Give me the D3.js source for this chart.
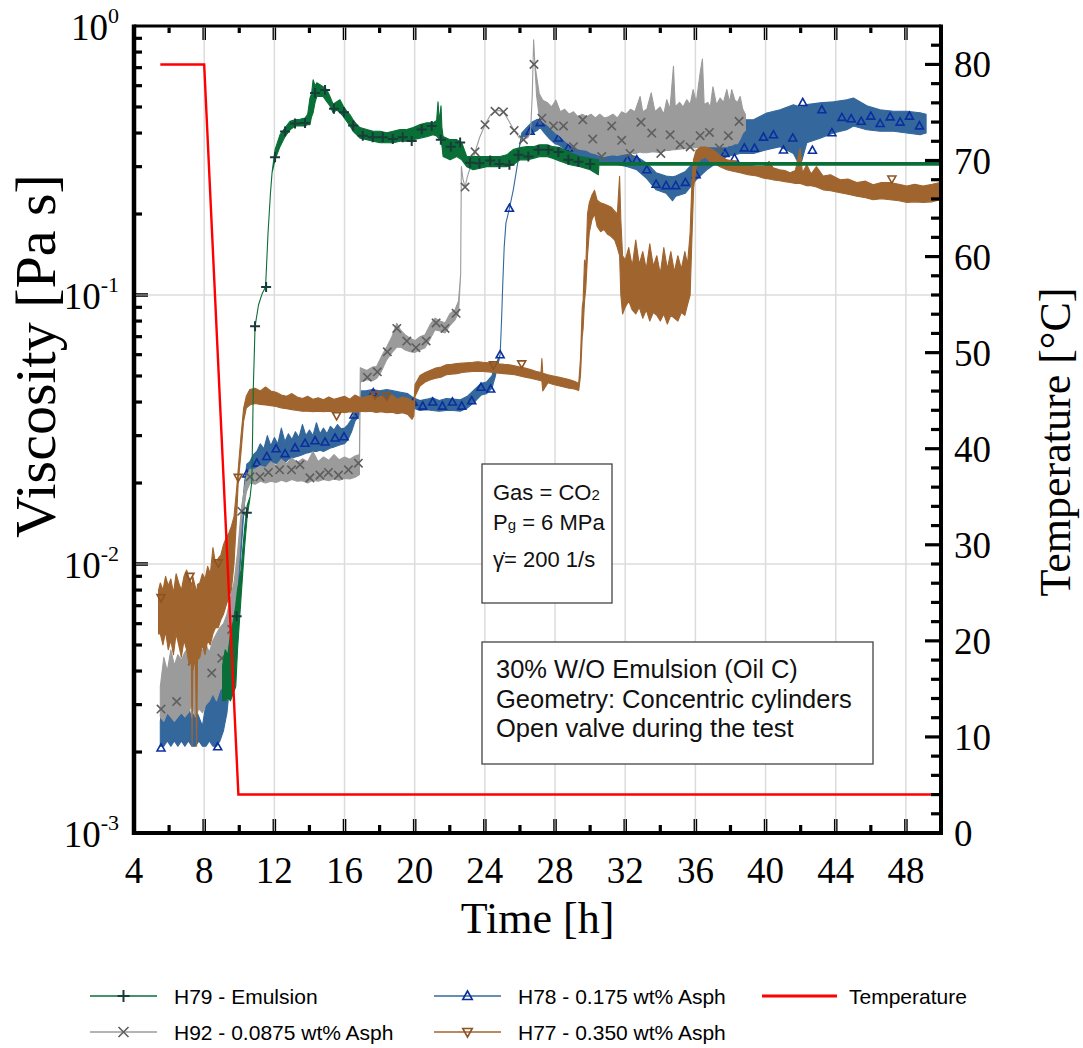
<!DOCTYPE html>
<html>
<head>
<meta charset="utf-8">
<script src="https://cdn.jsdelivr.net/npm/d3@7"></script>
<style>
  html, body { margin: 0; padding: 0; background: #fff; }
  svg { display: block; }
</style>
</head>
<body>
<svg id="chart" width="1083" height="1048"></svg>
<script>
// ---- Data: viscosity traces as [time h, low, high] (min/max per time slot, Pa s) ----
const h79Emulsion = [
  [9.05,0.0031,0.0042],[9.2,0.0031,0.0048],[9.35,0.0032,0.0046],[9.5,0.0031,0.0055],
  [9.65,0.0033,0.0061],[9.8,0.0035,0.0070],[9.9,0.0048,0.0080],[10.1,0.0075,0.0095],
  [10.3,0.0115,0.0135],[10.45,0.0150,0.0165],[10.62,0.0178],[10.72,0.0205],[10.8,0.045],
  [10.85,0.058],[10.9,0.0765],[11.1,0.092],[11.3,0.101],[11.5,0.107],[11.64,0.170],
  [11.78,0.24],[11.87,0.285],[12.04,0.318,0.347],[12.32,0.356,0.394],[12.61,0.388,0.418],
  [12.89,0.411,0.442],[13.18,0.425,0.448],[13.46,0.425,0.450],[13.75,0.425,0.455],
  [13.9,0.430,0.470],[14.03,0.430,0.540],[14.12,0.460,0.560],[14.21,0.476,0.631],
  [14.32,0.520,0.600],[14.42,0.547,0.615],[14.60,0.547,0.605],[14.78,0.547,0.595],
  [14.99,0.523,0.580],[15.17,0.505,0.547],[15.35,0.476,0.512],[15.56,0.488,0.523],
  [15.74,0.476,0.532],[15.92,0.462,0.505],[16.13,0.442,0.482],[16.31,0.425,0.468],
  [16.49,0.406,0.448],[16.70,0.394,0.430],[16.88,0.383,0.419],[17.27,0.378,0.412],
  [17.63,0.373,0.406],[18.03,0.368,0.406],[18.41,0.368,0.401],[18.77,0.368,0.406],
  [19.17,0.373,0.412],[19.55,0.373,0.412],[19.91,0.378,0.419],[20.31,0.383,0.430],
  [20.69,0.388,0.437],[21.05,0.394,0.437],[21.25,0.390,0.445],[21.33,0.385,0.523],
  [21.40,0.380,0.440],[21.50,0.378,0.505],[21.55,0.360,0.420],[21.62,0.327,0.388],
  [22.02,0.318,0.378],[22.40,0.327,0.378],[22.68,0.318,0.368],[22.97,0.300,0.327],
  [23.33,0.292,0.327],[23.73,0.296,0.327],[24.11,0.300,0.327],[24.47,0.300,0.327],
  [24.87,0.300,0.327],[25.25,0.300,0.332],[25.61,0.305,0.347],[26.01,0.318,0.353],
  [26.39,0.318,0.356],[26.75,0.322,0.356],[27.15,0.327,0.362],[27.53,0.327,0.362],
  [27.89,0.322,0.356],[28.29,0.314,0.353],[28.86,0.305,0.338],[29.43,0.300,0.327],
  [30.00,0.292,0.322],[30.47,0.280,0.318],[30.5,0.304,0.311],[50,0.304,0.311]
];
const h79Marks = [
  [9.85,0.0064],[10.43,0.0155],[10.9,0.0765],[11.53,0.107],[12.04,0.325],[12.61,0.405],
  [13.18,0.434],[13.75,0.436],[14.32,0.564],[14.89,0.578],[15.40,0.492],[15.97,0.478],
  [16.49,0.427],[17.04,0.391],[17.61,0.386],[18.18,0.386],[18.75,0.380],[19.32,0.386],
  [19.83,0.374],[20.40,0.412],[20.97,0.425],[21.49,0.378],[22.06,0.356],[22.59,0.369],
  [23.16,0.310],[23.69,0.309],[24.30,0.316],[24.83,0.307],[25.40,0.305],[25.91,0.332],
  [26.48,0.327],[27.05,0.347],[27.62,0.347],[28.19,0.340],[28.76,0.318],[29.33,0.313],
  [30.00,0.307]
];

const h92Asph = [
  [5.5,0.0027,0.0035],[5.7,0.0026,0.0045],[5.9,0.0028,0.0040],[6.1,0.0027,0.0048],
  [6.3,0.0026,0.0042],[6.5,0.0027,0.0046],[6.7,0.0028,0.0044],[6.9,0.0027,0.0047],
  [7.1,0.0028,0.0049],[7.3,0.0030,0.0046],[7.5,0.0027,0.0049],[7.7,0.0029,0.0045],
  [7.9,0.0028,0.0048],[8.1,0.0030,0.0050],[8.3,0.0031,0.0047],[8.5,0.0033,0.0052],
  [8.7,0.0031,0.0055],[8.9,0.0034,0.0058],[9.1,0.0035,0.0060],[9.3,0.0037,0.0065],
  [9.5,0.0045,0.0075],[9.7,0.0060,0.0085],[9.9,0.0085,0.011],[10.14,0.0145,0.0165],
  [10.4,0.0185,0.021],[10.61,0.0200,0.0225],[10.9,0.0198,0.0225],[11.2,0.0203,0.0232],
  [11.5,0.0200,0.0228],[11.8,0.0203,0.0240],[12.1,0.0201,0.0232],[12.4,0.0205,0.0245],
  [12.7,0.0202,0.0236],[13.0,0.0206,0.0248],[13.3,0.0203,0.0238],[13.6,0.0204,0.0246],
  [13.9,0.0200,0.0240],[14.2,0.0205,0.0262],[14.5,0.0203,0.0240],[14.8,0.0206,0.0250],
  [15.1,0.0204,0.0243],[15.4,0.0207,0.0255],[15.7,0.0205,0.0244],[16.0,0.0208,0.0250],
  [16.3,0.0207,0.0245],[16.6,0.0210,0.0252],[16.85,0.0215,0.0255],[16.9,0.0474,0.0537],
  [17.27,0.0484,0.0524],[17.6,0.0480,0.0540],[17.83,0.0490,0.0542],[18.1,0.0520,0.0590],
  [18.40,0.0574,0.0640],[18.7,0.0610,0.0700],[18.98,0.0640,0.0785],[19.2,0.0640,0.0740],
  [19.45,0.0625,0.0712],[19.75,0.0615,0.0690],[20.02,0.0612,0.0676],[20.3,0.0625,0.0700],
  [20.59,0.0637,0.0712],[20.9,0.0690,0.0780],[21.16,0.0742,0.0820],[21.45,0.0735,0.0800],
  [21.73,0.0722,0.0787],[22.0,0.0770,0.0850],[22.30,0.0809,0.0881],[22.5,0.0860,0.0950],
  [22.62,0.12],[22.66,0.30],[22.75,0.27],[22.87,0.252],[23.0,0.275],[23.44,0.340],
  [23.7,0.385],[24.01,0.4295],[24.3,0.465],[24.58,0.482],[24.8,0.485],[25.06,0.479],
  [25.35,0.445],[25.67,0.409],[25.95,0.385],[26.20,0.378],[26.45,0.385],[26.6,0.40],
  [26.7,0.55],[26.78,0.889],[26.85,0.72],[26.95,0.55,0.65],[27.1,0.46,0.56],
  [27.3,0.44,0.53],[27.55,0.43,0.52],[27.8,0.415,0.50],[28.05,0.40,0.53],[28.3,0.39,0.48],
  [28.55,0.375,0.49],[28.8,0.365,0.47],[29.05,0.355,0.48],[29.3,0.35,0.46],
  [29.55,0.347,0.47],[29.8,0.345,0.46],[30.05,0.338,0.47],[30.3,0.335,0.455],
  [30.55,0.33,0.47],[30.8,0.327,0.455],[31.05,0.33,0.46],[31.3,0.332,0.47],
  [31.55,0.33,0.455],[31.8,0.333,0.48],[32.05,0.335,0.47],[32.3,0.338,0.49],
  [32.55,0.335,0.48],[32.85,0.34,0.547],[33.0,0.338,0.48],[33.23,0.338,0.49],
  [33.48,0.34,0.564],[33.7,0.34,0.48],[33.99,0.338,0.50],[34.2,0.342,0.47],
  [34.37,0.345,0.532],[34.55,0.345,0.49],[34.75,0.347,0.708],[34.85,0.347,0.50],
  [35.1,0.348,0.52],[35.3,0.35,0.50],[35.51,0.35,0.532],[35.7,0.352,0.51],
  [35.87,0.352,0.58],[36.05,0.354,0.52],[36.27,0.35,0.668],[36.4,0.355,0.754],
  [36.5,0.355,0.51],[36.7,0.356,0.52],[36.85,0.356,0.50],[37.0,0.356,0.594],
  [37.2,0.356,0.51],[37.41,0.356,0.54],[37.6,0.356,0.52],[37.79,0.356,0.58],
  [37.95,0.36,0.52],[38.07,0.36,0.58],[38.25,0.365,0.53],[38.4,0.365,0.52],
  [38.55,0.38,0.547],[38.7,0.40,0.49],[38.85,0.41,0.47]
];
const h92Marks = [
  [5.54,0.00289],[6.43,0.00308],[7.32,0.00436],[8.43,0.00393],[9.0,0.00446],[9.57,0.00571],
  [10.14,0.0157],[10.61,0.0211],[11.18,0.0211],[11.66,0.0219],[12.3,0.0224],[12.98,0.0224],
  [13.46,0.0234],[14.03,0.0209],[14.60,0.0214],[15.08,0.0219],[15.65,0.0214],[16.22,0.0224],
  [16.79,0.0237],[17.3,0.0495],[17.87,0.0518],[18.44,0.0615],[18.98,0.0751],[19.55,0.0674],
  [20.07,0.0637],[20.65,0.0675],[21.22,0.0787],[21.73,0.0751],[22.36,0.0855],[22.87,0.252],
  [23.44,0.3405],[24.01,0.4295],[24.58,0.482],[25.06,0.479],[25.67,0.409],[26.20,0.378],
  [26.80,0.72],[27.25,0.454],[27.91,0.425],[28.48,0.425],[29.05,0.356],[29.58,0.448],
  [30.15,0.38],[30.66,0.327],[31.23,0.425],[31.80,0.376],[32.27,0.336],[32.9,0.439],
  [33.51,0.400],[34.03,0.336],[34.56,0.394],[35.13,0.362],[35.70,0.355],[36.27,0.391],
  [36.80,0.402],[37.37,0.352],[37.88,0.391],[38.49,0.442]
];

const h78Asph = [
  [5.5,0.0021,0.0026],[5.7,0.0021,0.0032],[5.9,0.0022,0.0027],[6.1,0.0021,0.0030],
  [6.3,0.0022,0.0036],[6.5,0.0021,0.0028],[6.7,0.0022,0.0031],[6.9,0.0021,0.0027],
  [7.1,0.0022,0.0030],[7.3,0.0021,0.0026],[7.5,0.0021,0.0029],[7.7,0.0022,0.0027],
  [7.9,0.0021,0.0025],[8.1,0.0021,0.0030],[8.3,0.0022,0.0034],[8.5,0.0021,0.0032],
  [8.7,0.0021,0.0036],[8.9,0.0022,0.0040],[9.1,0.0024,0.0045],[9.3,0.0028,0.0050],
  [9.5,0.0038,0.0060],[9.7,0.0050,0.0075],[9.9,0.0070,0.0100],[10.1,0.011,0.014],
  [10.3,0.017,0.020],[10.43,0.020,0.0235],[10.6,0.0205,0.0240],[10.8,0.0215,0.0255],
  [11.0,0.0220,0.0262],[11.2,0.0225,0.0280],[11.4,0.0228,0.0268],[11.6,0.0230,0.0300],
  [11.8,0.0235,0.0275],[12.0,0.0238,0.0295],[12.2,0.0235,0.0280],[12.4,0.0240,0.0320],
  [12.6,0.0238,0.0285],[12.8,0.0245,0.0305],[13.0,0.0248,0.0290],[13.2,0.0250,0.0310],
  [13.4,0.0252,0.0295],[13.6,0.0255,0.0330],[13.8,0.0258,0.0300],[14.0,0.0260,0.0315],
  [14.2,0.0262,0.0300],[14.4,0.0262,0.0335],[14.6,0.0265,0.0305],[14.8,0.0262,0.0320],
  [15.0,0.0266,0.0305],[15.2,0.0270,0.0325],[15.4,0.0272,0.0315],[15.6,0.0275,0.0330],
  [15.8,0.0278,0.0318],[16.0,0.0280,0.0320],[16.2,0.0290,0.0330],[16.4,0.0310,0.0345],
  [16.6,0.0340,0.0370],[16.75,0.0350,0.0380],[16.85,0.0360,0.0395],[16.95,0.0395,0.0440],
  [17.2,0.0395,0.0440],[17.6,0.0400,0.0445],[18.0,0.0398,0.0440],[18.4,0.0400,0.0445],
  [18.8,0.0398,0.0440],[19.2,0.0395,0.0435],[19.6,0.0390,0.0430],[19.92,0.0380,0.0415],
  [20.3,0.0372,0.0405],[20.7,0.0375,0.0410],[21.0,0.0372,0.0415],[21.4,0.0370,0.0405],
  [21.8,0.0372,0.0412],[22.2,0.0372,0.0410],[22.6,0.0370,0.0408],[23.0,0.0380,0.0420],
  [23.4,0.0400,0.0445],[23.8,0.0425,0.0470],[24.1,0.0430,0.0475],[24.4,0.0450,0.0500],
  [24.6,0.0500,0.0550],[24.87,0.0599],[24.95,0.080],[25.02,0.110],[25.1,0.150],
  [25.2,0.185],[25.40,0.210],[25.62,0.246],[25.9,0.318],[25.97,0.356],[26.1,0.385,0.40],
  [26.4,0.39,0.42],[26.7,0.40,0.44],[27.0,0.41,0.45],[27.15,0.42,0.45],[27.4,0.40,0.44],
  [27.7,0.38,0.42],[28.0,0.365,0.40],[28.25,0.36,0.39],[28.5,0.35,0.385],[28.8,0.34,0.37],
  [29.2,0.33,0.36],[29.6,0.325,0.355],[30.0,0.32,0.35],[30.4,0.315,0.345],[30.8,0.31,0.345],
  [31.2,0.308,0.342],[31.6,0.305,0.34],[32.13,0.300,0.332],[32.66,0.292,0.327],
  [33.23,0.271,0.309],[33.76,0.246,0.285],[34.33,0.239,0.277],[34.7,0.224,0.275],
  [34.88,0.233,0.277],[35.43,0.239,0.288],[36.04,0.268,0.318],[36.65,0.292,0.378],
  [37.22,0.31,0.40],[37.79,0.327,0.425],[38.55,0.336,0.448],[39.31,0.336,0.448],
  [40.07,0.347,0.475],[40.83,0.356,0.488],[41.59,0.336,0.51],[41.97,0.30,0.50],
  [42.35,0.368,0.51],[43.11,0.383,0.518],[43.87,0.40,0.523],[44.63,0.4115,0.532],
  [45.01,0.425,0.54],[45.77,0.4115,0.505],[46.53,0.406,0.488],[47.29,0.406,0.482],
  [48.05,0.40,0.482],[48.81,0.394,0.476],[49.15,0.40,0.47]
];
const h78Marks = [
  [5.54,0.00207],[8.77,0.00209],[10.43,0.0216],[11.0,0.0237],[11.57,0.0251],[12.1,0.0268],
  [12.61,0.0257],[13.18,0.0270],[13.75,0.0281],[14.32,0.0287],[14.89,0.0284],[15.46,0.0294],
  [15.97,0.0297],[16.54,0.0358],[17.64,0.0433],[19.92,0.0399],[20.46,0.0386],[21.03,0.0400],
  [21.58,0.0386],[22.15,0.0400],[22.68,0.0386],[23.25,0.0404],[23.78,0.0454],[24.33,0.0447],
  [24.87,0.0599],[25.40,0.210],[26.58,0.406],[27.15,0.437],[28.2,0.383],[28.76,0.352],
  [32.13,0.318],[32.66,0.318],[33.23,0.292],[33.76,0.258],[34.33,0.255],[34.88,0.255],
  [35.43,0.262],[36.04,0.280],[37.69,0.336],[38.23,0.322],[38.79,0.352],[39.37,0.351],
  [39.88,0.386],[40.45,0.394],[41.02,0.346],[41.55,0.383],[42.12,0.519],[42.67,0.345],
  [43.21,0.488],[43.78,0.401],[44.35,0.457],[44.88,0.452],[45.45,0.442],[46.0,0.462],
  [46.53,0.434],[47.1,0.459],[47.67,0.439],[48.2,0.462],[48.77,0.425]
];

const h77Asph = [
  [5.4,0.0055,0.0080],[5.5,0.0055,0.0085],[5.65,0.0050,0.0080],[5.8,0.0056,0.0090],
  [5.95,0.0048,0.0083],[6.1,0.0052,0.0088],[6.25,0.0046,0.0078],[6.4,0.0055,0.0092],
  [6.55,0.0050,0.0085],[6.7,0.0045,0.0080],[6.85,0.0052,0.0090],[7.0,0.0048,0.0095],
  [7.15,0.0042,0.0088],[7.27,0.0044,0.0085],[7.31,0.0021,0.0080],[7.35,0.0040,0.0090],
  [7.5,0.0045,0.0082],[7.57,0.0021,0.0078],[7.62,0.0044,0.0084],
  [7.75,0.0045,0.0085],[7.9,0.0050,0.0092],[8.05,0.0046,0.0088],[8.2,0.0052,0.0098],
  [8.35,0.0050,0.0092],[8.5,0.0055,0.0115],[8.65,0.0058,0.0100],[8.8,0.0058,0.0105],
  [8.95,0.0062,0.0108],[9.1,0.0065,0.0118],[9.25,0.0070,0.0125],[9.4,0.0075,0.0130],
  [9.55,0.0080,0.0138],[9.7,0.0100,0.0150],[9.85,0.0150,0.0190],[9.94,0.0200,0.0225],
  [10.1,0.0260,0.0300],[10.25,0.0340,0.0380],[10.4,0.0380,0.0420],[10.6,0.0390,0.0445],
  [10.9,0.0395,0.0450],[11.2,0.0392,0.0440],[11.5,0.0390,0.0455],[11.8,0.0388,0.0440],
  [12.1,0.0385,0.0435],[12.4,0.0380,0.0425],[12.7,0.0378,0.0420],[13.0,0.0375,0.0430],
  [13.3,0.0372,0.0418],[13.6,0.0370,0.0412],[13.9,0.0370,0.0420],[14.2,0.0368,0.0410],
  [14.5,0.0370,0.0415],[14.8,0.0368,0.0408],[15.1,0.0370,0.0418],[15.4,0.0367,0.0410],
  [15.7,0.0368,0.0415],[16.0,0.0365,0.0420],[16.3,0.0368,0.0410],[16.6,0.0366,0.0425],
  [16.9,0.0370,0.0415],[17.2,0.0368,0.0418],[17.5,0.0370,0.0425],[17.8,0.0366,0.0415],
  [18.1,0.0368,0.0420],[18.4,0.0365,0.0412],[18.7,0.0367,0.0425],[19.0,0.0362,0.0410],
  [19.3,0.0365,0.0418],[19.6,0.0360,0.0412],[19.85,0.0345,0.0405],[19.95,0.0355,0.0395],
  [20.02,0.0420,0.0465],[20.3,0.0459,0.0502],[20.6,0.0475,0.0515],[20.9,0.0484,0.0525],
  [21.2,0.0490,0.0535],[21.5,0.0495,0.0540],[21.8,0.0505,0.0550],[22.1,0.0508,0.0552],
  [22.4,0.0510,0.0556],[22.7,0.0515,0.0558],[23.0,0.0518,0.0560],[23.3,0.0520,0.0562],
  [23.6,0.0520,0.0565],[23.9,0.0520,0.0562],[24.2,0.0518,0.0560],[24.5,0.0515,0.0560],
  [24.8,0.0512,0.0555],[25.1,0.0510,0.0552],[25.4,0.0508,0.0550],[25.7,0.0505,0.0545],
  [26.0,0.0500,0.0540],[26.3,0.0495,0.0535],[26.6,0.0490,0.0528],[26.9,0.0485,0.0520],
  [27.2,0.0480,0.0515],[27.25,0.0478,0.0580],[27.3,0.0440,0.0512],[27.6,0.0472,0.0505],
  [27.9,0.0465,0.0500],[28.2,0.0460,0.0495],[28.5,0.0455,0.0490],[28.8,0.0450,0.0485],
  [29.1,0.0447,0.0478],[29.35,0.0442,0.0470],[29.45,0.050,0.058],[29.55,0.070,0.090],
  [29.6,0.075,0.095],[29.68,0.095,0.135],[29.75,0.105,0.125],[29.85,0.14,0.20],
  [29.95,0.17,0.22],[30.1,0.19,0.235],[30.25,0.20,0.245],[30.4,0.18,0.225],
  [30.6,0.172,0.22],[30.8,0.175,0.218],[31.0,0.168,0.215],[31.2,0.165,0.212],
  [31.4,0.16,0.205],[31.55,0.15,0.20],[31.68,0.14,0.276],[31.75,0.10,0.19],
  [31.85,0.085,0.14],[32.0,0.090,0.135],[32.2,0.095,0.150],[32.4,0.088,0.128],
  [32.6,0.085,0.160],[32.8,0.090,0.130],[33.0,0.082,0.145],[33.2,0.088,0.125],
  [33.4,0.080,0.155],[33.6,0.086,0.128],[33.8,0.084,0.140],[34.0,0.080,0.120],
  [34.2,0.085,0.150],[34.4,0.078,0.125],[34.6,0.084,0.145],[34.8,0.082,0.122],
  [35.0,0.080,0.140],[35.2,0.086,0.125],[35.4,0.084,0.145],[35.55,0.092,0.130],
  [35.7,0.10,0.17],[35.8,0.16,0.26],[35.9,0.25,0.32],[36.05,0.30,0.345],
  [36.3,0.32,0.355],[36.6,0.325,0.355],[36.8,0.315,0.350],[37.0,0.310,0.347],
  [37.4,0.300,0.330],[37.79,0.292,0.318],[38.2,0.288,0.315],[38.55,0.285,0.310],
  [39.0,0.280,0.305],[39.5,0.277,0.300],[39.9,0.272,0.300],[40.2,0.270,0.314],
  [40.43,0.268,0.297],[40.8,0.266,0.292],[41.1,0.264,0.290],[41.4,0.262,0.285],
  [41.7,0.260,0.290],[41.97,0.260,0.351],[42.1,0.258,0.285],[42.35,0.255,0.305],
  [42.6,0.255,0.282],[42.9,0.252,0.300],[43.28,0.246,0.277],[43.7,0.244,0.280],
  [44.25,0.240,0.268],[44.7,0.237,0.270],[45.2,0.233,0.262],[45.7,0.230,0.265],
  [46.13,0.226,0.257],[46.6,0.228,0.262],[47.1,0.226,0.262],[47.6,0.224,0.258],
  [48.05,0.221,0.254],[48.5,0.222,0.258],[48.98,0.221,0.254],[49.5,0.222,0.258],
  [49.95,0.226,0.262]
];
const h77Marks = [
  [5.54,0.0075],[7.19,0.0090],[8.81,0.0101],[9.94,0.0210],[15.55,0.0356],[17.74,0.0425],
  [18.40,0.0422],[24.49,0.0550],[26.1,0.0555],[47.2,0.270]
];

// Temperature profile [time h, °C]
const temperature = [[5.5,80],[8,80],[9.95,4],[50,4]];

// Axis ticks
const timeTicks = [4,8,12,16,20,24,28,32,36,40,44,48];
const timeMinorTicks = [6,10,14,18,22,26,30,34,38,42,46,50];
const tempTicks = [0,10,20,30,40,50,60,70,80];
const viscDecades = [0.001,0.01,0.1,1];
const viscExponents = ["-3","-2","-1","0"];

// Series styling / legend
const series = [
  {key:"h78", label:"H78 - 0.175 wt% Asph", data:h78Asph, marks:h78Marks, color:"#34689c", mark:"triUp", markColor:"#0b2f9e"},
  {key:"h92", label:"H92 - 0.0875 wt% Asph", data:h92Asph, marks:h92Marks, color:"#9b9b9b", mark:"cross", markColor:"#5e5e5e"},
  {key:"h77", label:"H77 - 0.350 wt% Asph", data:h77Asph, marks:h77Marks, color:"#a0652f", mark:"triDown", markColor:"#8d5423"},
  {key:"h79", label:"H79 - Emulsion", data:h79Emulsion, marks:h79Marks, color:"#0a6e37", mark:"plus", markColor:"#173c3a"}
];

// ---- Layout ----
const W = 1083, H = 1048;
const L = 134, R = 941, T = 26, B = 833;
const svg = d3.select("#chart");

const x = d3.scaleLinear().domain([4, 50]).range([L, R]);
const y = d3.scaleLog().domain([1e-3, 1]).range([B, T]);
const yT = d3.scaleLinear().domain([0, 84]).range([B, T]);

const serif = "'Liberation Serif','Times New Roman',serif";
const sans = "'Liberation Sans',Arial,Helvetica,sans-serif";

svg.append("defs").append("clipPath").attr("id","plotClip")
  .append("rect").attr("x",L).attr("y",T).attr("width",R-L).attr("height",B-T);

// Grid lines
const grid = svg.append("g");
grid.selectAll("line.gx").data(timeTicks.filter(t => t > 4)).join("line")
  .attr("x1", d => x(d)).attr("x2", d => x(d)).attr("y1", T).attr("y2", B)
  .attr("stroke", "#dcdcdc").attr("stroke-width", 1.5);
grid.selectAll("line.gy").data(viscDecades.filter(v => v > 1e-3 && v < 1)).join("line")
  .attr("x1", L).attr("x2", R).attr("y1", d => y(d)).attr("y2", d => y(d))
  .attr("stroke", "#dcdcdc").attr("stroke-width", 1.5);

// Marker shapes
function markerPath(type, s) {
  switch (type) {
    case "plus": return `M${-s},0H${s}M0,${-s}V${s}`;
    case "cross": return `M${-s},${-s}L${s},${s}M${-s},${s}L${s},${-s}`;
    case "triUp": return `M0,${-s}L${s*0.95},${s*0.7}L${-s*0.95},${s*0.7}Z`;
    case "triDown": return `M0,${s}L${s*0.95},${-s*0.7}L${-s*0.95},${-s*0.7}Z`;
  }
}

// Viscosity traces (min/max band per time slot)
const band = d3.area()
  .x(d => x(d[0]))
  .y0(d => y(d[1]))
  .y1(d => y(d.length > 2 ? d[2] : d[1]));

const plot = svg.append("g").attr("clip-path", "url(#plotClip)");
series.forEach(s => {
  const g = plot.append("g");
  g.append("path").datum(s.data).attr("d", band)
    .attr("fill", s.color).attr("stroke", s.color)
    .attr("stroke-width", 1.1).attr("stroke-linejoin", "round");
  g.selectAll("path.m").data(s.marks).join("path")
    .attr("transform", d => `translate(${x(d[0])},${y(d[1])})`)
    .attr("d", markerPath(s.mark, s.mark === "plus" ? 5 : 4.2))
    .attr("fill", "none").attr("stroke", s.markColor)
    .attr("stroke-width", s.mark === "plus" ? 2 : 1.6);
});

// Temperature
plot.append("path").datum(temperature)
  .attr("d", d3.line().x(d => x(d[0])).y(d => yT(d[1])))
  .attr("fill", "none").attr("stroke", "#ff0000").attr("stroke-width", 2.4);

// Annotation boxes
const box1 = svg.append("g");
box1.append("rect").attr("x", 482).attr("y", 464).attr("width", 130).attr("height", 139)
  .attr("fill", "#fff").attr("stroke", "#444").attr("stroke-width", 1.3);
const b1 = box1.append("g").attr("font-family", sans).attr("font-size", 22).attr("fill", "#111");
const l1 = b1.append("text").attr("x", 493).attr("y", 500);
l1.append("tspan").text("Gas = CO");
l1.append("tspan").attr("font-size", 15).text("2");
const l2 = b1.append("text").attr("x", 493).attr("y", 530);
l2.append("tspan").text("P");
l2.append("tspan").attr("font-size", 15).text("g");
l2.append("tspan").text(" = 6 MPa");
b1.append("text").attr("x", 493).attr("y", 567).text("\u03B3\u0307= 200 1/s");

const box2 = svg.append("g");
box2.append("rect").attr("x", 482).attr("y", 642).attr("width", 391).attr("height", 122)
  .attr("fill", "#fff").attr("stroke", "#444").attr("stroke-width", 1.3);
const b2 = box2.append("g").attr("font-family", sans).attr("font-size", 25.5).attr("fill", "#111");
["30% W/O Emulsion (Oil C)", "Geometry: Concentric cylinders", "Open valve during the test"]
  .forEach((t, i) => b2.append("text").attr("x", 496).attr("y", 678 + i * 29.5).text(t));

// Frame
const frame = svg.append("g");
frame.append("line").attr("x1", L).attr("x2", R).attr("y1", T).attr("y2", T).attr("stroke", "#000").attr("stroke-width", 3);
frame.append("line").attr("x1", L - 2).attr("x2", R + 2).attr("y1", B).attr("y2", B).attr("stroke", "#000").attr("stroke-width", 4);
frame.append("line").attr("x1", L).attr("x2", L).attr("y1", T - 1.5).attr("y2", B + 2).attr("stroke", "#000").attr("stroke-width", 4.5);
frame.append("line").attr("x1", R).attr("x2", R).attr("y1", T - 1.5).attr("y2", B + 2).attr("stroke", "#000").attr("stroke-width", 4);

// Double-stroke major tick
function majorTick(g, x1, y1, x2, y2) {
  g.append("line").attr("x1", x1).attr("y1", y1).attr("x2", x2).attr("y2", y2)
    .attr("stroke", "#000").attr("stroke-width", 3.6);
  g.append("line").attr("x1", x1).attr("y1", y1).attr("x2", x2).attr("y2", y2)
    .attr("stroke", "#c8c8c8").attr("stroke-width", 1);
}
function minorTick(g, x1, y1, x2, y2) {
  g.append("line").attr("x1", x1).attr("y1", y1).attr("x2", x2).attr("y2", y2)
    .attr("stroke", "#000").attr("stroke-width", 3.2);
}
const ticks = svg.append("g");
timeTicks.filter(t => t > 4).forEach(t => {
  majorTick(ticks, x(t), B - 2, x(t), B - 14);
  majorTick(ticks, x(t), T + 1.5, x(t), T + 14);
});
timeMinorTicks.filter(t => t < 50).forEach(t => {
  minorTick(ticks, x(t), B - 2, x(t), B - 8);
  minorTick(ticks, x(t), T + 1.5, x(t), T + 7);
});
y.ticks().forEach(v => {
  const e = Math.log10(v);
  if (Math.abs(e - Math.round(e)) < 1e-9) {
    if (v > 1e-3 && v < 1) majorTick(ticks, L + 2, y(v), L + 14, y(v));
  } else {
    minorTick(ticks, L + 2, y(v), L + 8, y(v));
  }
});
d3.range(2, 84, 2).forEach(t => {
  if (t % 10 === 0) minorTick(ticks, R - 2, yT(t), R - 16, yT(t));
  else minorTick(ticks, R - 2, yT(t), R - 10, yT(t));
});

// Tick labels
const labels = svg.append("g").attr("font-family", serif).attr("fill", "#000");
labels.selectAll("text.xl").data(timeTicks).join("text")
  .attr("x", d => x(d)).attr("y", 883).attr("text-anchor", "middle")
  .attr("font-size", 37).text(d => d);
viscDecades.forEach((v, i) => {
  const t = labels.append("text").attr("x", 119).attr("y", y(v) + 14)
    .attr("text-anchor", "end").attr("font-size", 37);
  t.append("tspan").text("10");
  t.append("tspan").attr("font-size", 22).attr("dy", -17).text(viscExponents[i]);
});
labels.selectAll("text.yr").data(tempTicks).join("text")
  .attr("x", 954).attr("y", d => yT(d) + 13)
  .attr("font-size", 37).text(d => d);

// Axis titles
labels.append("text").attr("x", (L + R) / 2).attr("y", 933).attr("text-anchor", "middle")
  .attr("font-size", 44).text("Time [h]");
labels.append("text").attr("transform", "translate(55,356) rotate(-90)")
  .attr("text-anchor", "middle").attr("font-size", 58).text("Viscosity [Pa s]");
labels.append("text").attr("transform", "translate(1070,442) rotate(-90)")
  .attr("text-anchor", "middle").attr("font-size", 44).text("Temperature [\u00B0C]");

// Legend
const legendItems = [
  {s: series[3], x: 90, y: 996},
  {s: series[1], x: 90, y: 1032},
  {s: series[0], x: 434, y: 996},
  {s: series[2], x: 434, y: 1032}
];
const leg = svg.append("g").attr("font-family", sans).attr("font-size", 21);
legendItems.forEach(it => {
  leg.append("line").attr("x1", it.x).attr("x2", it.x + 67).attr("y1", it.y).attr("y2", it.y)
    .attr("stroke", it.s.color).attr("stroke-width", 1.4);
  leg.append("path").attr("transform", `translate(${it.x + 33.5},${it.y})`)
    .attr("d", markerPath(it.s.mark, it.s.mark === "plus" ? 6 : 5))
    .attr("fill", "none").attr("stroke", it.s.markColor).attr("stroke-width", it.s.mark === "plus" ? 2 : 1.6);
  leg.append("text").attr("x", it.x + 84).attr("y", it.y + 7.5).text(it.s.label);
});
leg.append("line").attr("x1", 762).attr("x2", 837).attr("y1", 996).attr("y2", 996)
  .attr("stroke", "#ff0000").attr("stroke-width", 3);
leg.append("text").attr("x", 849).attr("y", 1003.5).text("Temperature");
</script>
</body>
</html>
